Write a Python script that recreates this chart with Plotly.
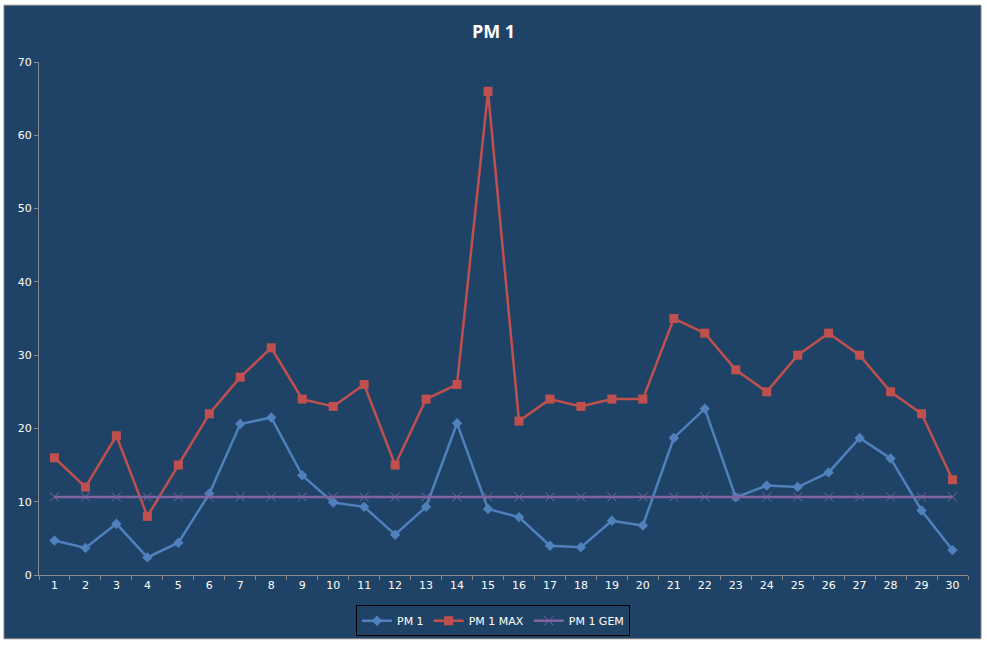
import plotly.graph_objects as go

days = [str(i) for i in range(1, 31)]
pm1 = [4.7, 3.7, 7.0, 2.4, 4.4, 11.1, 20.6, 21.5, 13.6, 9.9,
       9.3, 5.5, 9.3, 20.7, 9.0, 7.9, 4.0, 3.8, 7.4, 6.75,
       18.7, 22.7, 10.6, 12.2, 12.0, 14.0, 18.7, 15.9, 8.8, 3.4]
pm1_max = [16, 12, 19, 8, 15, 22, 27, 31, 24, 23,
           26, 15, 24, 26, 66, 21, 24, 23, 24, 24,
           35, 33, 28, 25, 30, 33, 30, 25, 22, 13]
pm1_gem = [10.65, 10.65, 10.65, 10.65, 10.65, 10.65, 10.65, 10.65, 10.65, 10.65,
           10.65, 10.65, 10.65, 10.65, 10.65, 10.65, 10.65, 10.65, 10.65, 10.65,
           10.65, 10.65, 10.65, 10.65, 10.65, 10.65, 10.65, 10.65, 10.65, 10.65]
y_ticks = [0, 10, 20, 30, 40, 50, 60, 70]

BG = "#1F4366"
W, H = 987, 648
L, R, T, B = 39, 968, 62, 577

fig = go.Figure()
fig.add_trace(go.Scatter(x=days, y=pm1, name="PM 1", mode="lines+markers",
                         line=dict(color="#4F81BD", width=2.5),
                         marker=dict(symbol="diamond", size=8, color="#4F81BD")))
fig.add_trace(go.Scatter(x=days, y=pm1_max, name="PM 1 MAX", mode="lines+markers",
                         line=dict(color="#C0504D", width=2.5),
                         marker=dict(symbol="square", size=9, color="#C0504D")))
fig.add_trace(go.Scatter(x=days, y=pm1_gem, name="PM 1 GEM", mode="lines+markers",
                         line=dict(color="#8064A2", width=2.5),
                         marker=dict(symbol="x-thin-open", size=9,
                                     line=dict(color="#8C6BB0", width=1))))

pw, ph = R - L, B - T
fig.add_shape(type="rect", xref="paper", yref="paper", layer="below",
              x0=(4 - L) / pw, x1=(981 - L) / pw,
              y0=(B - 641) / ph, y1=(B - 5) / ph,
              fillcolor=BG, line=dict(color="#808080", width=1))

fig.update_layout(
    width=W, height=H,
    margin=dict(l=L, r=W - R, t=T, b=H - B),
    paper_bgcolor="white", plot_bgcolor=BG,
    title=dict(text="<b>PM 1</b>", x=0.5, xanchor="center", y=1 - 32 / H, yanchor="middle",
               font=dict(family="Open Sans, DejaVu Sans", size=18, color="white")),
    font=dict(family="DejaVu Sans", size=11, color="white"),
    showlegend=True,
    legend=dict(orientation="h", x=(493 - L) / pw, xanchor="center", y=(B - 623) / ph,
                yanchor="middle",
                bgcolor=BG, bordercolor="black", borderwidth=1,
                font=dict(family="DejaVu Sans", size=11, color="white"),
                itemwidth=30, tracegroupgap=0),
    xaxis=dict(type="category", tickson="boundaries", ticks="outside", ticklen=4,
               tickcolor="#8A8A8A", showline=True, linecolor="#8A8A8A", linewidth=1,
               showgrid=False, zeroline=False, range=[-0.5, 29.5],
               tickfont=dict(size=11, color="white")),
    yaxis=dict(range=[0, 70], tickvals=y_ticks, ticks="outside", ticklen=4,
               tickcolor="#8A8A8A", showline=True, linecolor="#8A8A8A", linewidth=1,
               showgrid=False, zeroline=False,
               tickfont=dict(size=11, color="white")),
)

fig.write_html("out.html")
